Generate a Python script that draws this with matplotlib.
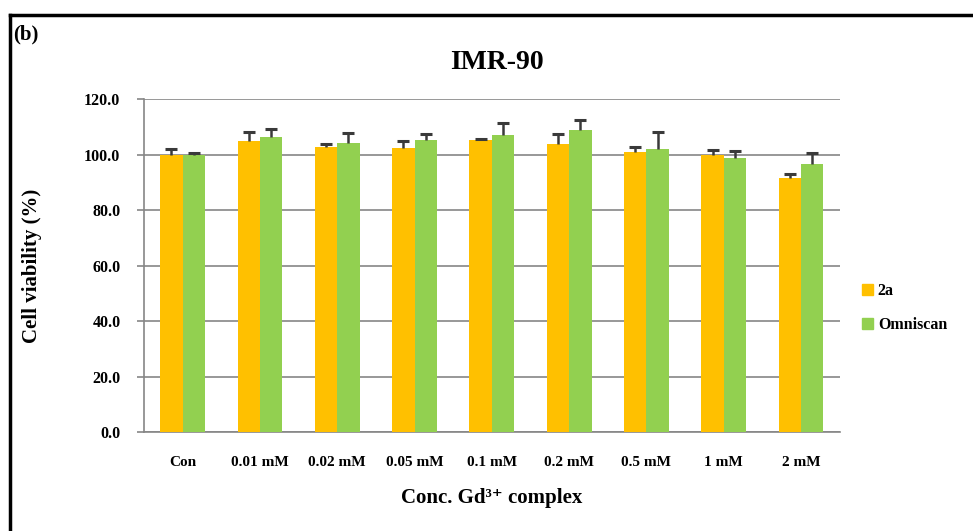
import numpy as np
import matplotlib.pyplot as plt
from matplotlib.lines import Line2D
from matplotlib.patches import Patch

plt.rcParams['font.family'] = ['Liberation Serif', 'DejaVu Serif']
plt.rcParams['font.weight'] = 'bold'

# cell viability of IMR-90 cells for each concentration
conc = ['Con', '0.01 mM', '0.02 mM', '0.05 mM', '0.1 mM', '0.2 mM', '0.5 mM', '1 mM', '2 mM']
via_2a = [100.0, 105.1, 102.7, 102.3, 105.3, 103.8, 101.0, 99.8, 91.6]
err_2a = [2.0, 3.1, 1.3, 2.5, 0.4, 3.8, 1.8, 2.1, 1.3]
via_omni = [100.0, 106.5, 104.1, 105.3, 107.2, 109.0, 102.0, 98.9, 96.5]
err_omni = [0.5, 2.9, 3.6, 2.2, 4.1, 3.5, 6.2, 2.6, 4.1]
yticks = [0, 20, 40, 60, 80, 100, 120]

c_2a = '#FFC000'
c_omni = '#92D050'
grid_c = '#868686'

fig = plt.figure(figsize=(9.73, 5.31), dpi=100)
ax = fig.add_axes([0.148, 0.186, 0.715, 0.627])

x = np.arange(len(conc))
w = 0.29
zeros = np.zeros(len(conc))
ax.bar(x - w / 2, via_2a, w, color=c_2a, zorder=3)
ax.bar(x + w / 2, via_omni, w, color=c_omni, zorder=3)

# upper error bars only
for xs, ys, es in [(x - w / 2, via_2a, err_2a), (x + w / 2, via_omni, err_omni)]:
    _, caps, _ = ax.errorbar(xs, ys, yerr=[zeros, es], fmt='none', ecolor='#3a3a3a',
                             elinewidth=1.8, capsize=4.5, capthick=2.2, zorder=4)
    caps[0].set_visible(False)
    caps[1].set_color('black')

ax.set_xlim(-0.5, len(conc) - 0.5)
ax.set_ylim(0, 120)
ax.set_yticks(yticks)
ax.set_yticklabels([f'{v:.1f}' for v in yticks], fontsize=11.5, fontweight='bold')
ax.set_xticks(x)
ax.set_xticklabels(conc, fontsize=11, fontweight='bold')
ax.tick_params(axis='x', length=0, pad=17)
ax.tick_params(axis='y', length=5, color=grid_c, width=1.2, pad=12)
ax.yaxis.grid(True, color=grid_c, linewidth=1.2, zorder=0)

for side in ['top', 'right']:
    ax.spines[side].set_visible(False)
for side in ['left', 'bottom']:
    ax.spines[side].set_color(grid_c)
    ax.spines[side].set_linewidth(1.2)

ax.set_ylabel('Cell viability (%)', fontsize=15, fontweight='bold', labelpad=30)
ax.set_xlabel('Conc. Gd³⁺ complex', fontsize=15, fontweight='bold', labelpad=14)
fig.text(0.511, 0.883, 'IMR-90', fontsize=20, fontweight='bold', ha='center', va='center')
fig.text(0.014, 0.935, '(b)', fontsize=15, fontweight='bold', ha='left', va='center')

handles = [Patch(color=c_2a), Patch(color=c_omni)]
fig.legend(handles, ['2a', 'Omniscan'], loc='center left', bbox_to_anchor=(0.871, 0.42),
           frameon=False, prop={'weight': 'bold', 'size': 11.5},
           handlelength=0.7, handleheight=0.7, handletextpad=0.3, labelspacing=1.1)

# outer frame, top and left edges
fig.add_artist(Line2D([0.0105, 1.0], [0.972, 0.972], transform=fig.transFigure, color='black', lw=2.5))
fig.add_artist(Line2D([0.0105, 0.0105], [0.0, 0.972], transform=fig.transFigure, color='black', lw=2.5))

fig.savefig('out.png', dpi=100)
